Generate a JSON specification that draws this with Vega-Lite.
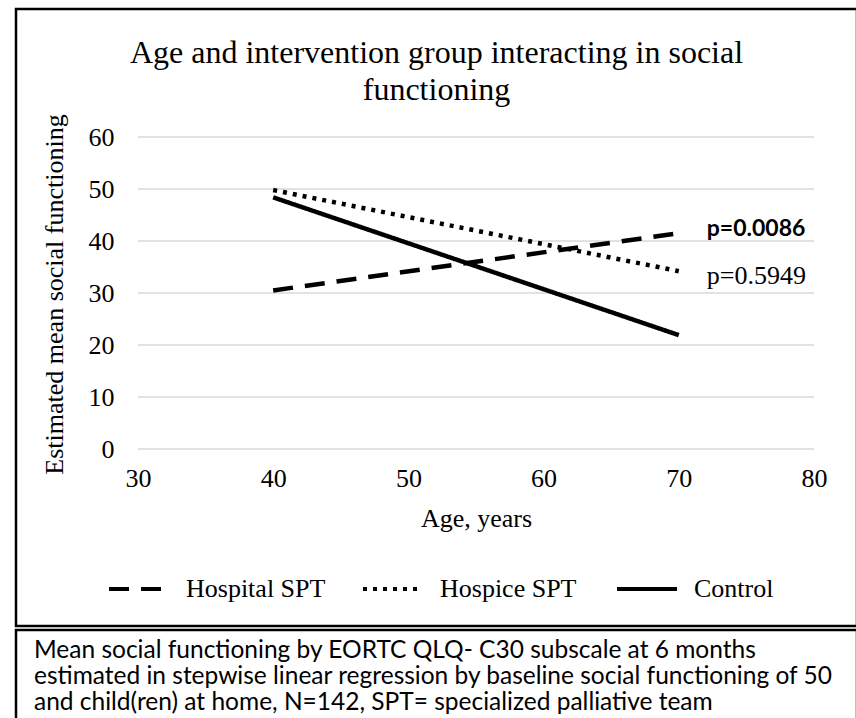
{
  "$schema": "https://vega.github.io/schema/vega-lite/v6.json",
  "padding": {"left": 14, "top": 7, "right": 0, "bottom": 0},
  "background": "white",
  "spacing": 0,
  "config": {"view": {"stroke": "black", "strokeWidth": 2.5}, "font": "Liberation Serif"},
  "datasets": {
    "grid": [{"v": 0}, {"v": 10}, {"v": 20}, {"v": 30}, {"v": 40}, {"v": 50}, {"v": 60}],
    "lines": [
      {"group": "Hospital SPT", "age": 40, "sf": 30.5, "p": null},
      {"group": "Hospital SPT", "age": 70, "sf": 41.5, "p": "p=0.0086"},
      {"group": "Hospice SPT", "age": 40, "sf": 49.8, "p": null},
      {"group": "Hospice SPT", "age": 70, "sf": 34.2, "p": "p=0.5949"},
      {"group": "Control", "age": 40, "sf": 48.4, "p": null},
      {"group": "Control", "age": 70, "sf": 21.9, "p": null}
    ],
    "note": [
      {"line": 1, "text": "Mean social functioning by EORTC QLQ- C30 subscale at 6 months"},
      {"line": 2, "text": "estimated in stepwise linear regression by baseline social functioning of 50"},
      {"line": 3, "text": "and child(ren) at home, N=142, SPT= specialized palliative team"}
    ]
  },
  "vconcat": [
    {
      "width": 841,
      "height": 617,
      "title": {
        "text": ["Age and intervention group interacting in social", "functioning"],
        "font": "Liberation Serif",
        "fontSize": 32,
        "fontWeight": "normal",
        "color": "black",
        "anchor": "middle",
        "baseline": "top",
        "lineHeight": 37,
        "offset": -98
      },
      "layer": [
        {
          "data": {"name": "grid"},
          "mark": {"type": "rule", "color": "#d9d9d9", "strokeWidth": 1.5},
          "encoding": {
            "y": {
              "field": "v",
              "type": "quantitative",
              "scale": {"domain": [-34.04, 84.62], "nice": false, "zero": false},
              "axis": {
                "values": [0, 10, 20, 30, 40, 50, 60],
                "offset": -122,
                "domain": false,
                "ticks": false,
                "grid": false,
                "labelFont": "Liberation Serif",
                "labelFontSize": 26,
                "labelColor": "black",
                "labelPadding": 24,
                "title": "Estimated mean social functioning",
                "titleFont": "Liberation Serif",
                "titleFontSize": 26,
                "titleFontWeight": "normal",
                "titleColor": "black",
                "titlePadding": 21,
                "titleY": 285
              }
            },
            "x": {
              "datum": 30,
              "type": "quantitative",
              "scale": {"domain": [20.98, 83.18], "nice": false, "zero": false},
              "axis": {
                "values": [30, 40, 50, 60, 70, 80],
                "offset": -177,
                "domain": false,
                "ticks": false,
                "grid": false,
                "labelFlush": false,
                "labelFont": "Liberation Serif",
                "labelFontSize": 26,
                "labelColor": "black",
                "labelPadding": 16,
                "title": "Age, years",
                "titleFont": "Liberation Serif",
                "titleFontSize": 26,
                "titleFontWeight": "normal",
                "titleColor": "black",
                "titlePadding": 14,
                "titleX": 460
              }
            },
            "x2": {"datum": 80}
          }
        },
        {
          "data": {"name": "lines"},
          "mark": {"type": "line", "strokeWidth": 4.5, "color": "black"},
          "encoding": {
            "x": {"field": "age", "type": "quantitative"},
            "y": {"field": "sf", "type": "quantitative"},
            "strokeDash": {
              "field": "group",
              "type": "nominal",
              "scale": {
                "domain": ["Hospital SPT", "Hospice SPT", "Control"],
                "range": [[20, 12], [4, 6], [1, 0]]
              },
              "legend": {
                "orient": "none",
                "legendX": 91,
                "legendY": 548,
                "direction": "horizontal",
                "title": null,
                "padding": 0,
                "symbolType": "stroke",
                "symbolSize": 3600,
                "symbolStrokeWidth": 4,
                "symbolStrokeColor": "black",
                "labelFont": "Liberation Serif",
                "labelFontSize": 26,
                "labelColor": "black",
                "labelOffset": 15,
                "labelLimit": 300,
                "columnPadding": 29,
                "gridAlign": "all"
              }
            }
          }
        },
        {
          "data": {"name": "lines"},
          "transform": [{"filter": "datum.group === 'Hospital SPT' && datum.age === 70"}],
          "mark": {"type": "text", "align": "left", "baseline": "alphabetic", "dx": 28, "dy": 3, "font": "Lato", "fontSize": 23, "fontWeight": "bold", "color": "black"},
          "encoding": {
            "x": {"field": "age", "type": "quantitative"},
            "y": {"field": "sf", "type": "quantitative"},
            "text": {"field": "p"}
          }
        },
        {
          "data": {"name": "lines"},
          "transform": [{"filter": "datum.group === 'Hospice SPT' && datum.age === 70"}],
          "mark": {"type": "text", "align": "left", "baseline": "alphabetic", "dx": 28, "dy": 13, "font": "Liberation Serif", "fontSize": 26, "color": "black"},
          "encoding": {
            "x": {"field": "age", "type": "quantitative"},
            "y": {"field": "sf", "type": "quantitative"},
            "text": {"field": "p"}
          }
        }
      ]
    },
    {
      "width": 841,
      "height": 96,
      "data": {"name": "note"},
      "mark": {"type": "text", "align": "left", "baseline": "middle", "dx": 18, "font": "Lato", "fontSize": 24.5, "color": "black"},
      "encoding": {
        "x": {"datum": 0, "type": "quantitative", "scale": {"domain": [0, 1]}, "axis": null},
        "y": {"field": "line", "type": "quantitative", "scale": {"domain": [0.192, 3.885], "reverse": true, "nice": false, "zero": false}, "axis": null},
        "text": {"field": "text"}
      }
    }
  ],
  "resolve": {"scale": {"x": "independent", "y": "independent"}}
}
